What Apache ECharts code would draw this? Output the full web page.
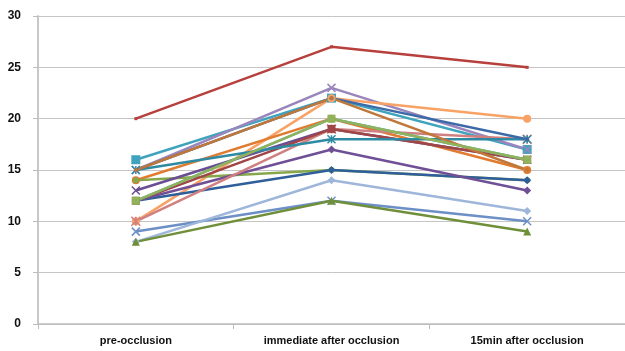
<!DOCTYPE html>
<html>
<head>
<meta charset="utf-8">
<style>
  html, body { margin: 0; padding: 0; background: #fff; }
  #main { width: 625px; height: 351px; }
</style>
<script src="https://cdn.jsdelivr.net/npm/echarts@6/dist/echarts.min.js"></script>
</head>
<body>
<div id="main"></div>
<script>
// categories and y ticks
var categories = ['pre-occlusion', 'immediate after occlusion', '15min after occlusion']
var yTicks = [0, 5, 10, 15, 20, 25, 30]

// one array per subject
var s01 = [20, 27, 25]
var s02 = [16, 22, 17]
var s03 = [15, 23, 17]
var s04 = [10, 22, 20]
var s05 = [14, 20, 15]
var s06 = [14, 15, 14]
var s07 = [12, 15, 14]
var s08 = [12, 17, 13]
var s09 = [13, 19, 16]
var s10 = [9, 12, 10]
var s11 = [8, 14, 11]
var s12 = [8, 12, 9]
var s13 = [10, 19, 18]
var s14 = [12, 19, 16]
var s15 = [12, 20, 16]
var s16 = [15, 18, 18]
var s17 = [15, 22, 18]
var s18 = [15, 22, 15]
var s19 = [12, 20, 16]

var subjects = [s01, s02, s03, s04, s05, s06, s07, s08, s09, s10, s11, s12, s13, s14, s15, s16, s17, s18, s19]

// look of each line (colour, marker, size)
var looks = [
  ['#B7403D', 'rect', 3],
  ['#3FA3BE', 'rect', 9],
  ['#9A86BC', 'path://M0,0L10,10M10,0L0,10', 8],
  ['#F9A266', 'circle', 8],
  ['#E07B2F', 'circle', 8],
  ['#86A84A', 'circle', 6],
  ['#2F5F9A', 'diamond', 8],
  ['#6F4F95', 'diamond', 8],
  ['#6A4D92', 'path://M0,0L10,10M10,0L0,10', 8],
  ['#6C8FC6', 'path://M0,0L10,10M10,0L0,10', 8],
  ['#9DB6DA', 'diamond', 8],
  ['#6F8F3A', 'triangle', 8],
  ['#D08080', 'path://M0,0L10,10M10,0L0,10M5,0L5,10', 9],
  ['#A14646', 'rect', 8],
  ['#4BB0C8', 'circle', 5],
  ['#2E8AA3', 'path://M0,0L10,10M10,0L0,10M5,0L5,10', 8],
  ['#3C6AA8', 'circle', 4],
  ['#C0783A', 'circle', 4],
  ['#8FB25A', 'rect', 8]
]

var myChart = echarts.init(document.getElementById('main'))

var series = subjects.map(function (vals, i) {
  var look = looks[i]
  return {
    type: 'line',
    data: vals,
    symbol: look[1],
    symbolSize: look[2],
    showAllSymbol: true,
    lineStyle: { color: look[0], width: 2.5 },
    itemStyle: { color: look[0], borderColor: look[0], borderWidth: look[1].indexOf('path') === 0 ? 1.5 : 0 },
    emphasis: { disabled: true },
    animation: false
  }
})

var option = {
  backgroundColor: '#fff',
  grid: { left: 38, right: -4, top: 16, bottom: 27, containLabel: false },
  xAxis: {
    type: 'category',
    data: categories,
    boundaryGap: true,
    axisLine: { lineStyle: { color: '#BDBDBD', width: 1.5 } },
    axisTick: { show: true, length: 5, lineStyle: { color: '#BDBDBD' } },
    axisLabel: {
      interval: 0,
      color: '#111', fontWeight: 'bold', fontSize: 11,
      fontFamily: 'Liberation Sans', margin: 11
    }
  },
  yAxis: {
    type: 'value',
    min: yTicks[0],
    max: yTicks[yTicks.length - 1],
    interval: 5,
    axisLine: { show: true, lineStyle: { color: '#C8C8C8', width: 2 } },
    axisTick: { show: true, length: 5, lineStyle: { color: '#BDBDBD' } },
    splitLine: { lineStyle: { color: '#C4C4C4', width: 1 } },
    axisLabel: {
      color: '#111', fontWeight: 'bold', fontSize: 12,
      fontFamily: 'Liberation Sans', margin: 17
    }
  },
  series: series
}

myChart.setOption(option)
</script>
</body>
</html>
